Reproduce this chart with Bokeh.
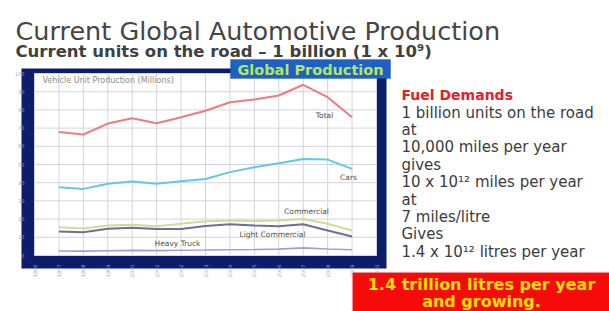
from bokeh.plotting import figure
from bokeh.models import Range1d, BoxAnnotation, Label, FixedTicker, LinearAxis
from bokeh.embed import file_html
from bokeh.resources import INLINE
import math

# ---------------- data ----------------
YEARS = [1997, 1998, 1999, 2000, 2001, 2002, 2003, 2004, 2005, 2006, 2007, 2008, 2009]
TOTAL = [67.8, 66.5, 72.5, 75.4, 72.7, 76.0, 79.5, 84.2, 85.7, 87.9, 93.8, 87.0, 76.0]
CARS = [37.5, 36.6, 39.4, 40.7, 39.4, 40.8, 42.0, 45.8, 48.5, 50.7, 53.0, 52.7, 47.6]
COMMERCIAL = [15.5, 14.8, 16.5, 16.9, 16.1, 17.4, 18.8, 19.2, 18.9, 19.2, 20.1, 17.4, 13.7]
LIGHT_COMMERCIAL = [13.2, 12.8, 14.7, 15.2, 14.6, 14.5, 16.2, 17.2, 16.5, 16.1, 17.2, 13.7, 10.4]
HEAVY_TRUCK = [2.5, 2.4, 2.6, 2.8, 2.7, 2.9, 3.0, 3.2, 3.3, 3.5, 4.2, 3.6, 3.2]
SERIES_NAMES = ["Total", "Cars", "Commercial", "Light Commercial", "Heavy Truck"]

X_TICKS = list(range(1996, 2011))
Y_TICKS = [0, 10, 20, 30, 40, 50, 60, 70, 80, 90, 100]

TITLE = "Current Global Automotive Production"
SUBTITLE = "Current units on the road \u2013 1 billion (1 x 10\u2079)"
CHART_TITLE = "Global Production"
AXIS_TITLE = "Vehicle Unit Production (Millions)"
SIDE_HEAD = "Fuel Demands"
SIDE_LINES = ["1 billion units on the road", "at", "10,000 miles per year", "gives",
              "10 x 10\u00b9\u00b2 miles per year", "at", "7 miles/litre", "Gives",
              "1.4 x 10\u00b9\u00b2  litres per year"]
BANNER = ["1.4 trillion litres per year", "and growing."]

# ---------------- layout (page pixels) ----------------
W, H = 609, 311
PX0, PX1 = 0, W                  # canvas extent in page px
PY0, PY1 = 0, H
FX0, FX1 = 34, 376               # chart plot area left/right (page px)
FY0, FY1 = 73, 255               # chart plot area top/bottom (page px)
X0, X1 = X_TICKS[0], X_TICKS[-1]
Y0, Y1 = Y_TICKS[0], Y_TICKS[-1]

# chart ranges, extended so that X0..X1 / Y0..Y1 land on the chart plot area
kx = (X1 - X0) / (FX1 - FX0)
ky = (Y1 - Y0) / (FY1 - FY0)
years_range = Range1d(X0 - (FX0 - PX0) * kx, X1 + (PX1 - FX1) * kx)
units_range = Range1d(Y0 - (PY1 - FY1) * ky, Y1 + (FY0 - PY0) * ky)

NAVY = "#0b1d6b"
TXT = "#3c3c3c"

p = figure(width=W, height=H, output_backend="svg", toolbar_location=None,
           x_range=Range1d(PX0, PX1), y_range=Range1d(PY1, PY0),
           x_axis_type=None, y_axis_type=None,
           min_border=0, min_border_left=0, min_border_right=0,
           min_border_top=0, min_border_bottom=0)
p.extra_x_ranges = {"years": years_range}
p.extra_y_ranges = {"units": units_range}
p.outline_line_color = None
p.background_fill_color = "white"
p.border_fill_color = "white"

C = dict(x_range_name="years", y_range_name="units")

# navy chart frame and white plot area (page coordinates)
p.quad(left=21, right=386, top=68, bottom=268, fill_color=NAVY, line_color=None)
p.quad(left=FX0, right=FX1, top=FY0, bottom=FY1, fill_color="white", line_color=None)

# grid lines from the ticks
p.segment(x0=X_TICKS, x1=X_TICKS, y0=[Y0] * len(X_TICKS), y1=[Y1] * len(X_TICKS),
          line_color="#d4d4de", line_width=1, **C)
p.segment(x0=[X0] * len(Y_TICKS), x1=[X1] * len(Y_TICKS), y0=Y_TICKS, y1=Y_TICKS,
          line_color="#d4d4de", line_width=1, **C)

# axes placed on the chart's edges
xax = LinearAxis(ticker=FixedTicker(ticks=X_TICKS), fixed_location=Y0, **C)
yax = LinearAxis(ticker=FixedTicker(ticks=Y_TICKS), fixed_location=X0, **C)
for ax in (xax, yax):
    ax.axis_line_color = None
    ax.major_tick_line_color = None
    ax.minor_tick_line_color = None
    ax.major_label_text_font = "DejaVu Sans"
    ax.major_label_text_font_size = "5px"
    ax.major_label_text_color = "#9aa3c8"
xax.major_label_orientation = math.pi / 2
xax.major_label_standoff = 3
yax.major_label_standoff = 4
p.add_layout(xax, "below")
p.add_layout(yax, "left")

# series
p.line(YEARS, HEAVY_TRUCK, line_color="#a89ad8", line_width=1.6, **C)
p.line(YEARS, COMMERCIAL, line_color="#cfdc98", line_width=2, **C)
p.line(YEARS, LIGHT_COMMERCIAL, line_color="#6b7099", line_width=2, **C)
p.line(YEARS, CARS, line_color="#62c9e2", line_width=2, **C)
p.line(YEARS, TOTAL, line_color="#f07a82", line_width=2, **C)

# series labels (page px positions)
for name, (px, py) in zip(SERIES_NAMES, [(324, 115), (348, 177), (306, 211), (272, 234), (177, 243)]):
    p.add_layout(Label(x=px, y=py, text=name, text_font="DejaVu Sans",
                       text_font_size="7.5px", text_color="#505050",
                       text_align="center", text_baseline="middle"))

p.add_layout(Label(x=42, y=80, text=AXIS_TITLE, text_font="DejaVu Sans",
                   text_font_size="8px", text_color="#8c8c8c",
                   text_align="left", text_baseline="middle"))

# chart title box
p.add_layout(BoxAnnotation(left=230, right=390, top=59, bottom=78,
                           fill_color="#1e60c4", fill_alpha=1, line_color="#114a9e", line_width=1))
p.add_layout(Label(x=310, y=69, text=CHART_TITLE, text_font="DejaVu Sans",
                   text_font_style="bold", text_font_size="14.5px", text_color="#b2e65e",
                   text_align="center", text_baseline="middle"))

# titles
p.add_layout(Label(x=15, y=30, text=TITLE, text_font="DejaVu Sans",
                   text_font_size="25.5px", text_color="#454545",
                   text_align="left", text_baseline="alphabetic"))
p.add_layout(Label(x=15, y=51, text=SUBTITLE, text_font="DejaVu Sans",
                   text_font_style="bold", text_font_size="16.5px", text_color="#404040",
                   text_align="left", text_baseline="alphabetic"))

# side text
p.add_layout(Label(x=401, y=94, text=SIDE_HEAD, text_font="DejaVu Sans",
                   text_font_style="bold", text_font_size="14px", text_color="#e3202a",
                   text_align="left", text_baseline="middle"))
for i, line in enumerate(SIDE_LINES):
    p.add_layout(Label(x=401, y=112 + i * 17.4, text=line, text_font="DejaVu Sans",
                       text_font_size="15px", text_color=TXT,
                       text_align="left", text_baseline="middle"))

# red banner
p.add_layout(BoxAnnotation(left=352, right=PX1 + 5, top=272, bottom=PY1 + 5,
                           fill_color="#f70a0a", fill_alpha=1, line_color="#ff9a9a", line_width=1))
for i, line in enumerate(BANNER):
    p.add_layout(Label(x=481, y=284 + i * 17, text=line, text_font="DejaVu Sans",
                       text_font_style="bold", text_font_size="16px", text_color="#ffe000",
                       text_align="center", text_baseline="middle"))

open("out.html", "w").write(file_html(p, INLINE))
